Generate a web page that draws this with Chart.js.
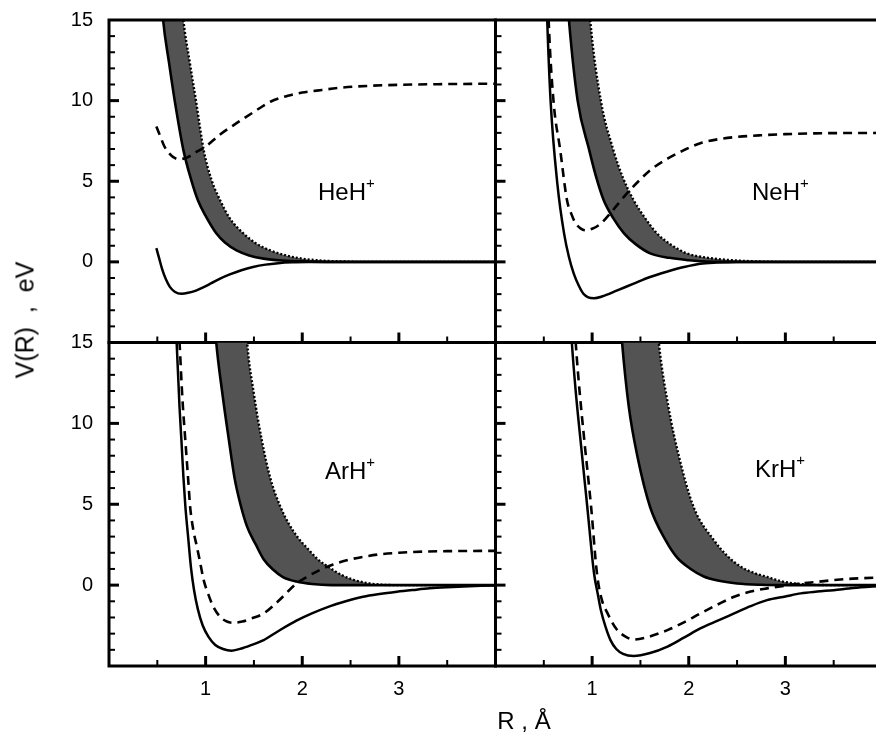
<!DOCTYPE html>
<html><head><meta charset="utf-8">
<script src="https://cdn.jsdelivr.net/npm/chart.js@4.4.1/dist/chart.umd.min.js"></script>
<style>
html,body{margin:0;padding:0;background:#fff;}
#wrap{position:relative;width:876px;height:736px;overflow:hidden;background:#fff;font-family:"Liberation Sans",Arial,sans-serif;color:#000;}
canvas{position:absolute;left:0;top:0;}
.lbl{position:absolute;line-height:1;white-space:pre;}
.pl{font-size:24px;transform:translateY(-50%);}
.pl sup{font-size:15px;position:relative;top:-3px;}
</style></head><body>
<div id="wrap">
<canvas id="cTL" width="900" height="736" style="width:900px;height:736px"></canvas>
<canvas id="cTR" width="900" height="736" style="width:900px;height:736px"></canvas>
<canvas id="cBL" width="900" height="736" style="width:900px;height:736px"></canvas>
<canvas id="cBR" width="900" height="736" style="width:900px;height:736px"></canvas>
<div class="lbl pl" style="left:318px;top:191px">HeH<sup>+</sup></div>
<div class="lbl pl" style="left:752px;top:191px">NeH<sup>+</sup></div>
<div class="lbl pl" style="left:325px;top:470px">ArH<sup>+</sup></div>
<div class="lbl pl" style="left:755px;top:468px">KrH<sup>+</sup></div>
<div class="lbl" style="left:25px;top:320px;font-size:25px;transform:translate(-50%,-50%) rotate(-90deg);">V(R)  ,  eV</div>
<div class="lbl" style="left:524px;top:721px;font-size:24px;transform:translate(-50%,-50%);">R , Å</div>
</div>
<script>
// ---------------- data (R in Å, V in eV) ----------------
// HeH+
const heSolidR = [0.49,0.52,0.55,0.59,0.63,0.68,0.75,0.82,0.9,0.98,1.06,1.15,1.25,1.37,1.49,1.62,1.75,1.9,2.1,2.4,3.0,4.0];
const heSolidV = [0.85,0.2,-0.45,-1.1,-1.55,-1.85,-1.98,-1.92,-1.78,-1.57,-1.32,-1.04,-0.78,-0.52,-0.32,-0.17,-0.08,-0.03,-0.01,0,0,0];
const heDashR = [0.49,0.53,0.57,0.62,0.67,0.72,0.8,0.9,1.0,1.15,1.32,1.5,1.67,1.85,2.0,2.15,2.4,2.7,3.0,3.4,4.0];
const heDashV = [8.4,7.8,7.2,6.75,6.48,6.37,6.45,6.8,7.15,7.9,8.6,9.3,9.93,10.3,10.5,10.62,10.8,10.92,10.98,11.02,11.05];
const heLowR = [0.50,0.56,0.62,0.68,0.77,0.85,0.92,1.0,1.11,1.2,1.32,1.45,1.6,1.8,2.0,2.3,3.0,4.0];
const heLowV = [20,15,12.4,10,6.93,5.1,3.82,2.85,1.77,1.2,0.71,0.4,0.2,0.08,0.03,0,0,0];
const heHighR = [0.50,0.70,0.77,0.835,0.90,0.98,1.06,1.15,1.25,1.39,1.52,1.67,1.83,2.0,2.2,2.4,2.6,3.0,4.0];
const heHighV = [40,20,15,12.4,10,6.93,5.1,3.82,2.7,1.77,1.15,0.71,0.4,0.2,0.08,0.03,0,0,0];
// NeH+
const neSolidR = [0.53,0.535,0.57,0.64,0.71,0.76,0.81,0.86,0.91,0.96,1.02,1.1,1.26,1.43,1.6,1.78,1.95,2.12,2.3,2.5,3.0,4.0];
const neSolidV = [16,15,10,4.86,1.75,0.3,-0.73,-1.45,-1.98,-2.2,-2.25,-2.15,-1.77,-1.35,-0.94,-0.6,-0.32,-0.11,-0.04,0,0,0];
const neDashR = [0.545,0.55,0.6,0.67,0.74,0.79,0.83,0.88,0.93,1.0,1.09,1.2,1.36,1.48,1.6,1.78,1.95,2.12,2.3,2.5,2.74,3.0,3.3,4.0];
const neDashV = [16,15,10,6.93,3.82,2.9,2.38,2.08,1.96,2.05,2.38,3.1,4.25,5.0,5.68,6.4,6.93,7.36,7.6,7.75,7.85,7.92,7.97,8.0];
const neLowR = [0.70,0.76,0.85,0.97,1.04,1.12,1.22,1.33,1.45,1.6,1.8,2.0,2.12,2.4,3.0,4.0];
const neLowV = [20,15,10,6.93,5.3,3.82,2.7,1.77,1.1,0.53,0.25,0.1,0.04,0,0,0];
const neHighR = [0.70,0.92,0.98,1.09,1.22,1.32,1.43,1.55,1.67,1.82,1.98,2.2,2.45,2.7,2.95,3.5,4.0];
const neHighV = [40,20,15,10,6.93,5.2,3.82,2.7,1.77,1.05,0.53,0.25,0.1,0.03,0,0,0];
// ArH+
const arSolidR = [0.69,0.70,0.73,0.75,0.77,0.79,0.82,0.85,0.88,0.92,0.97,1.03,1.1,1.18,1.27,1.38,1.5,1.6,1.75,1.94,2.1,2.29,2.45,2.63,2.8,2.98,3.15,3.32,3.5,3.67,3.85,4.0];
const arSolidV = [16,15,11.0,8.9,6.7,4.9,2.9,1.0,-0.3,-1.5,-2.5,-3.2,-3.7,-3.95,-4.05,-3.9,-3.65,-3.4,-2.85,-2.2,-1.75,-1.3,-1.0,-0.72,-0.55,-0.41,-0.3,-0.2,-0.13,-0.08,-0.04,-0.02];
const arDashR = [0.72,0.73,0.76,0.79,0.82,0.84,0.87,0.91,0.94,0.98,1.03,1.08,1.15,1.22,1.29,1.38,1.48,1.6,1.75,1.94,2.06,2.18,2.32,2.46,2.63,2.81,3.0,3.15,3.5,4.0];
const arDashV = [16,15,11.5,8.95,6.48,4.83,3.5,2.36,1.5,0.31,-0.6,-1.34,-1.96,-2.25,-2.33,-2.25,-2.05,-1.75,-1.0,0.1,0.55,0.93,1.28,1.54,1.75,1.91,2.0,2.05,2.1,2.12];
const arLowR = [1.05,1.11,1.17,1.24,1.30,1.36,1.43,1.52,1.60,1.70,1.80,1.94,2.1,2.3,3.0,4.0];
const arLowV = [20,15,12,9,6.6,5.0,3.6,2.5,1.6,0.95,0.5,0.22,0.07,0,0,0];
const arHighR = [1.05,1.38,1.43,1.50,1.58,1.67,1.77,1.86,1.96,2.05,2.16,2.29,2.4,2.53,2.67,2.81,3.0,4.0];
const arHighV = [40,20,15,11.8,9.0,6.6,4.9,3.8,2.9,2.3,1.6,1.05,0.65,0.33,0.13,0.03,0,0];
// KrH+
const krSolidR = [0.78,0.79,0.83,0.88,0.95,1.02,1.06,1.09,1.14,1.19,1.25,1.32,1.43,1.6,1.78,1.95,2.12,2.3,2.47,2.64,2.81,3.0,3.16,3.33,3.5,3.7,4.0];
const krSolidV = [16,15,12,8.95,4.83,0.72,-0.6,-1.54,-2.6,-3.4,-3.95,-4.25,-4.38,-4.2,-3.8,-3.25,-2.68,-2.2,-1.75,-1.3,-0.93,-0.7,-0.51,-0.4,-0.31,-0.18,-0.05];
const krDashR = [0.82,0.83,0.87,0.92,0.99,1.05,1.1,1.16,1.25,1.35,1.43,1.55,1.78,1.95,2.12,2.3,2.47,2.64,2.81,3.0,3.16,3.33,3.5,3.7,4.0];
const krDashV = [16,15,12,8.9,4.8,0.72,-0.9,-1.75,-2.7,-3.2,-3.36,-3.25,-2.78,-2.3,-1.75,-1.2,-0.72,-0.4,-0.2,-0.03,0.1,0.2,0.31,0.4,0.48];
const krLowR = [1.25,1.31,1.38,1.47,1.60,1.76,1.88,2.02,2.15,2.3,2.5,2.75,3.0,4.0];
const krLowV = [20,15,11.0,7.92,4.83,2.78,1.7,1.0,0.55,0.28,0.1,0.02,0,0];
const krHighR = [1.25,1.62,1.69,1.79,1.90,2.05,2.26,2.4,2.54,2.7,2.81,2.95,3.1,3.3,3.5,4.0];
const krHighV = [40,20,15,11.0,7.92,4.83,2.78,1.8,1.13,0.7,0.51,0.25,0.1,0.02,0,0];

const yTickLabels = ['0','5','10','15'];
const xTickLabels = ['1','2','3'];

// ---------------- helpers ----------------
const FONT = '"Liberation Sans", Arial, sans-serif';
const YW = 60, XH = 50, CW = 900, CH = 736;
const zip = (R, V) => R.map((r, i) => ({x: r, y: V[i]}));

const framePlugin = {
  id: 'frame',
  afterDatasetsDraw(chart, args, o) {
    const {ctx, chartArea: a, scales: {x, y}} = chart;
    ctx.save();
    ctx.strokeStyle = '#000';
    ctx.lineCap = 'butt';
    y.ticks.forEach(t => {
      const v = t.value;
      if (v <= y.min + 1e-9 || v >= y.max - 1e-9) return;
      const major = Math.abs(v % 5) < 1e-9;
      const py = y.getPixelForValue(v);
      ctx.lineWidth = major ? 3 : 2;
      ctx.beginPath(); ctx.moveTo(a.left, py); ctx.lineTo(a.left + (major ? 10 : 6), py); ctx.stroke();
    });
    x.ticks.forEach(t => {
      const v = t.value;
      if (v <= x.min + 1e-9 || v >= x.max - 1e-9) return;
      const major = Math.abs(v % 1) < 1e-9;
      const px = x.getPixelForValue(v);
      ctx.lineWidth = major ? 3 : 2;
      ctx.beginPath(); ctx.moveTo(px, a.bottom); ctx.lineTo(px, a.bottom - (major ? 10 : 6)); ctx.stroke();
    });
    ctx.lineWidth = 3;
    ctx.lineCap = 'square';
    ctx.beginPath();
    ctx.moveTo(a.left, a.top); ctx.lineTo(a.left, a.bottom); ctx.lineTo(a.right, a.bottom);
    if (o.top) { ctx.moveTo(a.left, a.top); ctx.lineTo(a.right, a.top); }
    if (o.right) { ctx.moveTo(a.right, a.top); ctx.lineTo(a.right, a.bottom); }
    ctx.stroke();
    ctx.restore();
  }
};

function makeChart(id, area, sets, showX, showY, isTop, isLeft) {
  const base = {pointRadius: 0, tension: 0, cubicInterpolationMode: 'monotone', borderColor: '#000', clip: 0};
  const datasets = [
    Object.assign({}, base, {data: zip(sets.solidR, sets.solidV), borderWidth: 2.5, fill: false, order: 1}),
    Object.assign({}, base, {data: zip(sets.dashR, sets.dashV), borderWidth: 2.6, borderDash: [9, 6], fill: false, order: 2}),
    Object.assign({}, base, {data: zip(sets.lowR, sets.lowV), borderWidth: 2.6, fill: false, order: 3}),
    Object.assign({}, base, {data: zip(sets.highR, sets.highV), borderWidth: 2.4, borderDash: [2, 2], fill: '-1', backgroundColor: '#535353', order: 4})
  ];
  return new Chart(document.getElementById(id), {
    type: 'line',
    data: {datasets},
    options: {
      responsive: false, animation: false, events: [],
      layout: {padding: {left: area.L - YW, right: CW - area.R, top: area.T, bottom: CH - area.B - XH}},
      plugins: {legend: {display: false}, tooltip: {enabled: false}, frame: {top: isTop, right: isLeft}},
      scales: {
        x: {
          type: 'linear', position: 'bottom', min: 0, max: 4,
          grid: {display: false, drawTicks: false}, border: {display: false},
          ticks: {stepSize: 0.5, autoSkip: false, maxRotation: 0, padding: 11, color: '#000', font: {family: FONT, size: 20},
            callback: v => (showX && xTickLabels.includes(String(v))) ? String(v) : ''},
          afterFit: s => { s.height = XH; s.paddingLeft = 0; s.paddingRight = 0; s.paddingTop = 0; s.paddingBottom = 0; }
        },
        y: {
          type: 'linear', position: 'left', min: -5, max: 15,
          grid: {display: false, drawTicks: false}, border: {display: false},
          ticks: {stepSize: 1, autoSkip: false, padding: 16, color: '#000', font: {family: FONT, size: 20},
            callback: v => (showY && yTickLabels.includes(String(v))) ? String(v) : ''},
          afterFit: s => { s.width = YW; s.paddingLeft = 0; s.paddingRight = 0; s.paddingTop = 0; s.paddingBottom = 0; }
        }
      }
    },
    plugins: [framePlugin]
  });
}

const XL = 109, XM = 495.5, XR = 882, YT = 20, YM = 342.5, YB = 666;
makeChart('cTL', {L: XL, R: XM, T: YT, B: YM},
  {solidR: heSolidR, solidV: heSolidV, dashR: heDashR, dashV: heDashV, lowR: heLowR, lowV: heLowV, highR: heHighR, highV: heHighV},
  false, true, true, true);
makeChart('cTR', {L: XM, R: XR, T: YT, B: YM},
  {solidR: neSolidR, solidV: neSolidV, dashR: neDashR, dashV: neDashV, lowR: neLowR, lowV: neLowV, highR: neHighR, highV: neHighV},
  false, false, true, false);
makeChart('cBL', {L: XL, R: XM, T: YM, B: YB},
  {solidR: arSolidR, solidV: arSolidV, dashR: arDashR, dashV: arDashV, lowR: arLowR, lowV: arLowV, highR: arHighR, highV: arHighV},
  true, true, false, true);
makeChart('cBR', {L: XM, R: XR, T: YM, B: YB},
  {solidR: krSolidR, solidV: krSolidV, dashR: krDashR, dashV: krDashV, lowR: krLowR, lowV: krLowV, highR: krHighR, highV: krHighV},
  true, false, false, false);
</script>
</body></html>
